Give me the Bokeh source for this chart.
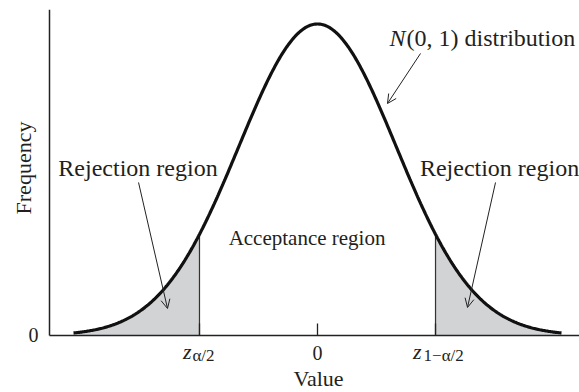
import numpy as np
from bokeh.plotting import figure
from bokeh.models import Range1d, Label, Arrow, OpenHead, FixedTicker
from bokeh.embed import file_html
from bokeh.resources import INLINE

# ---- data ----
curve_range = [-3.1, 3.1]          # extent of the drawn N(0,1) curve
cutoffs = [-1.5, 1.5]              # z_{alpha/2}, z_{1-alpha/2}
x_tick_values = [-1.5, 0, 1.5]
x_tick_labels = ["", "0", ""]
y_tick_values = [0]
y_tick_labels = ["0"]
region_labels = ["Rejection region", "Acceptance region", "Rejection region"]
dist_name = "N"
dist_rest = "(0, 1) distribution"
x_title = "Value"
y_title = "Frequency"

FONT = "Liberation Serif"
INK = "#231f20"
Y_TOP = 0.4175
X_AXIS_POS = -3.405

xs = np.linspace(curve_range[0], curve_range[1], 500)
pdf = np.exp(-xs ** 2 / 2) / np.sqrt(2 * np.pi)

p = figure(width=579, height=392, output_backend="svg", toolbar_location=None,
           x_range=Range1d(-4.028, 3.329), y_range=Range1d(-0.0730, Y_TOP),
           min_border_left=0, min_border_right=0, min_border_top=9, min_border_bottom=0)
p.outline_line_color = None
p.xgrid.visible = False
p.ygrid.visible = False
p.background_fill_color = "white"
p.border_fill_color = "white"

# shaded tails
left = xs <= cutoffs[0]
right = xs >= cutoffs[1]
p.varea(x=xs[left], y1=0, y2=pdf[left], fill_color="#d2d3d5")
p.varea(x=xs[right], y1=0, y2=pdf[right], fill_color="#d2d3d5")

# cutoff lines
cut_h = np.exp(-np.array(cutoffs) ** 2 / 2) / np.sqrt(2 * np.pi)
p.segment(x0=cutoffs, y0=[0, 0], x1=cutoffs, y1=cut_h, line_color="#333333", line_width=1.3)

# curve
p.line(xs, pdf, line_color="#111111", line_width=3.2)

# axes
for ax in (p.xaxis[0], p.yaxis[0]):
    ax.axis_line_color = "#222222"
    ax.axis_line_width = 1.5
    ax.minor_tick_line_color = None
    ax.major_label_text_font = FONT
    ax.major_label_text_font_size = "20px"
    ax.major_label_text_color = INK

xa = p.xaxis[0]
xa.fixed_location = 0
xa.bounds = (X_AXIS_POS, 3.329)
xa.ticker = FixedTicker(ticks=x_tick_values)
xa.major_label_overrides = {v: s for v, s in zip(x_tick_values, x_tick_labels)}
xa.major_tick_in = 12
xa.major_tick_out = 0
xa.major_tick_line_color = "#222222"
xa.major_tick_line_width = 1.3
xa.major_label_standoff = 11

ya = p.yaxis[0]
ya.fixed_location = X_AXIS_POS
ya.bounds = (0, Y_TOP)
ya.ticker = FixedTicker(ticks=y_tick_values)
ya.major_label_overrides = {v: s for v, s in zip(y_tick_values, y_tick_labels)}
ya.major_tick_in = 0
ya.major_tick_out = 0
ya.major_label_standoff = 11

# axis titles
p.add_layout(Label(x=0.0127, y=-0.0548, text=x_title, text_align="center",
                   text_baseline="alphabetic", text_font=FONT, text_font_size="22px",
                   text_color=INK))
p.add_layout(Label(x=-3.742, y=0.2145, text=y_title, angle=np.pi / 2, text_align="center",
                   text_baseline="alphabetic", text_font=FONT, text_font_size="22px",
                   text_color=INK))

# z tick labels (italic z with subscript)
def sub_label(xc, main_dx, sub_dx, sub_text):
    p.add_layout(Label(x=xc, y=0, text="z", x_offset=main_dx, y_offset=-16,
                       text_align="right", text_baseline="alphabetic",
                       text_font=FONT, text_font_size="22px", text_font_style="italic",
                       text_color=INK))
    p.add_layout(Label(x=xc, y=0, text=sub_text, x_offset=sub_dx, y_offset=-20,
                       text_align="left", text_baseline="alphabetic",
                       text_font=FONT, text_font_size="17px", text_font_style="normal",
                       text_color=INK))

sub_label(cutoffs[0], -8, -7, "α/2")
sub_label(cutoffs[1], -14, -12, "1−α/2")

# region labels
lab_spec = [(-2.281, 0.2139, "24px"), (-0.133, 0.1255, "21px"), (2.313, 0.2139, "24px")]
for (lx, ly, fs), txt in zip(lab_spec, region_labels):
    p.add_layout(Label(x=lx, y=ly, text=txt, text_align="center", text_baseline="alphabetic",
                       text_font=FONT, text_font_size=fs, text_color=INK))

p.add_layout(Label(x=0.915, y=0.3804, text=dist_name, text_align="left", text_baseline="alphabetic",
                   text_font=FONT, text_font_size="24px", text_font_style="italic", text_color=INK))
p.add_layout(Label(x=0.915, y=0.3804, x_offset=17, text=dist_rest, text_align="left",
                   text_baseline="alphabetic",
                   text_font=FONT, text_font_size="24px", text_color=INK))

# arrows
arrows = [(-2.274, 0.1960, -1.906, 0.0346),
          (2.262, 0.1960, 1.906, 0.0359),
          (1.309, 0.3612, 0.889, 0.2971)]
for x0, y0, x1, y1 in arrows:
    p.add_layout(Arrow(end=OpenHead(size=9, line_width=1, line_color="#222222"),
                       x_start=x0, y_start=y0, x_end=x1, y_end=y1,
                       line_width=1, line_color="#222222"))

open("out.html", "w").write(file_html(p, INLINE))
